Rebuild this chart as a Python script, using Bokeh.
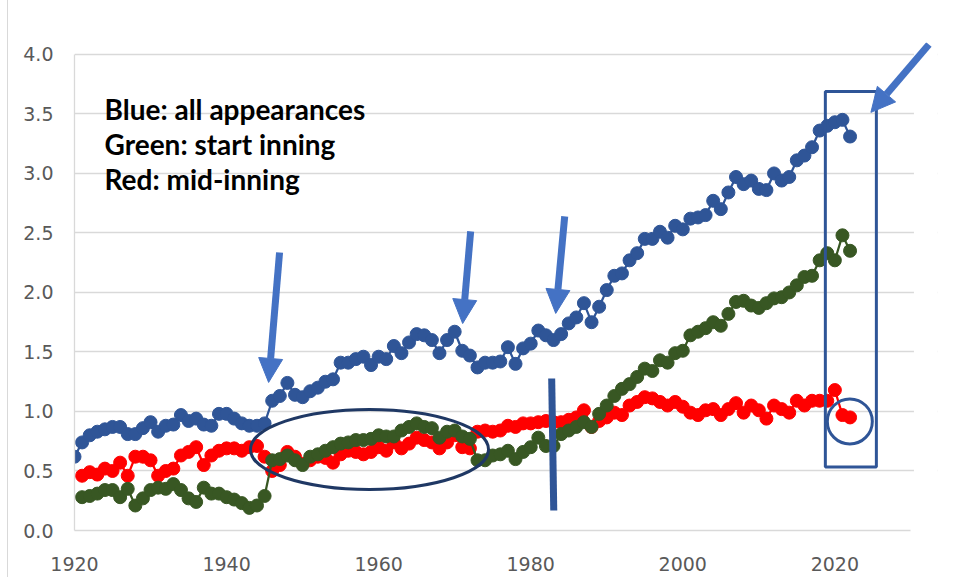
from bokeh.plotting import figure
from bokeh.models import (Arrow, NormalHead, Label, Range1d, SingleIntervalTicker,
                          NumeralTickFormatter, BoxAnnotation)
from bokeh.embed import file_html
from bokeh.resources import INLINE

# ---- data ----
years_blue = list(range(1920, 2023))
years_rg = list(range(1921, 2023))

blue_all = [
    0.62,
    0.74, 0.80, 0.83, 0.85, 0.87, 0.87, 0.81, 0.81, 0.86, 0.91,
    0.83, 0.88, 0.89, 0.97, 0.92, 0.94, 0.89, 0.88, 0.98, 0.98,
    0.94, 0.90, 0.88, 0.88, 0.90, 1.09, 1.13, 1.24, 1.14, 1.12,
    1.17, 1.20, 1.25, 1.27, 1.41, 1.41, 1.44, 1.46, 1.39, 1.46,
    1.44, 1.55, 1.49, 1.58, 1.65, 1.64, 1.60, 1.49, 1.60, 1.67,
    1.51, 1.47, 1.37, 1.41, 1.41, 1.42, 1.54, 1.40, 1.53, 1.57,
    1.68, 1.64, 1.60, 1.65, 1.74, 1.79, 1.91, 1.75, 1.88, 2.02,
    2.14, 2.16, 2.27, 2.33, 2.45, 2.45, 2.51, 2.46, 2.56, 2.53,
    2.62, 2.63, 2.65, 2.77, 2.70, 2.84, 2.97, 2.91, 2.94, 2.87,
    2.86, 3.00, 2.94, 2.97, 3.11, 3.15, 3.22, 3.36, 3.40, 3.43,
    3.45, 3.31,
]

green_start = [
    0.28, 0.29, 0.31, 0.34, 0.34, 0.28, 0.35, 0.21, 0.27, 0.34,
    0.36, 0.35, 0.39, 0.34, 0.27, 0.24, 0.36, 0.31, 0.31, 0.28,
    0.26, 0.23, 0.19, 0.21, 0.29, 0.59, 0.60, 0.63, 0.59, 0.55,
    0.62, 0.64, 0.67, 0.70, 0.73, 0.74, 0.76, 0.76, 0.77, 0.80,
    0.79, 0.79, 0.84, 0.87, 0.90, 0.87, 0.86, 0.78, 0.83, 0.84,
    0.79, 0.77, 0.59, 0.59, 0.63, 0.64, 0.67, 0.60, 0.66, 0.70,
    0.78, 0.71, 0.71, 0.81, 0.84, 0.87, 0.91, 0.87, 0.98, 1.05,
    1.13, 1.19, 1.23, 1.29, 1.36, 1.34, 1.43, 1.41, 1.49, 1.51,
    1.64, 1.67, 1.70, 1.75, 1.72, 1.82, 1.92, 1.93, 1.89, 1.87,
    1.91, 1.95, 1.96, 2.00, 2.06, 2.13, 2.14, 2.27, 2.33, 2.27,
    2.48, 2.35,
]

red_mid = [
    0.46, 0.49, 0.47, 0.52, 0.50, 0.57, 0.46, 0.62, 0.62, 0.59,
    0.46, 0.50, 0.52, 0.63, 0.66, 0.70, 0.55, 0.63, 0.67, 0.69,
    0.69, 0.67, 0.70, 0.71, 0.62, 0.50, 0.55, 0.66, 0.62, 0.56,
    0.59, 0.62, 0.61, 0.57, 0.64, 0.67, 0.66, 0.64, 0.66, 0.70,
    0.67, 0.74, 0.69, 0.73, 0.78, 0.76, 0.74, 0.69, 0.74, 0.80,
    0.70, 0.69, 0.83, 0.84, 0.83, 0.84, 0.88, 0.87, 0.90, 0.90,
    0.91, 0.92, 0.91, 0.91, 0.93, 0.95, 1.01, 0.87, 0.92, 0.95,
    0.99, 0.97, 1.05, 1.08, 1.12, 1.11, 1.08, 1.05, 1.08, 1.04,
    0.99, 0.97, 1.01, 1.02, 0.97, 1.02, 1.07, 0.99, 1.05, 1.01,
    0.94, 1.05, 1.02, 0.99, 1.09, 1.05, 1.09, 1.09, 1.09, 1.18,
    0.97, 0.95,
]

legend_lines = ["Blue:  all appearances", "Green: start inning", "Red: mid-inning"]

BLUE = "#2F5597"
GREEN = "#385723"
RED = "#FF0000"
ARROW = "#4472C4"
NAVY = "#1F3864"
GRID = "#D9D9D9"

p = figure(frame_width=863, frame_height=488, output_backend="svg", toolbar_location=None,
           x_range=Range1d(1920, 2033.5), y_range=Range1d(0, 4.1),
           min_border_left=74, min_border_right=19, min_border_top=42, min_border_bottom=47)
p.outline_line_color = None
p.background_fill_color = "white"
p.border_fill_color = None
p.styles = {"background": "linear-gradient(to right, #ffffff 0px, #ffffff 7px, "
                          "#D9D9D9 7px, #D9D9D9 8px, #ffffff 8px, #ffffff 100%)"}

p.xgrid.grid_line_color = None
p.ygrid.grid_line_color = GRID
p.ygrid.grid_line_width = 1.3

p.xaxis.ticker = SingleIntervalTicker(interval=20)
p.yaxis.ticker = SingleIntervalTicker(interval=0.5)
p.yaxis.formatter = NumeralTickFormatter(format="0.0")
p.xaxis.bounds = (1920, 2030)
p.yaxis.bounds = (0, 4)
for ax in (p.xaxis[0], p.yaxis[0]):
    ax.axis_line_color = GRID
    ax.axis_line_width = 1.3
    ax.major_tick_line_color = None
    ax.minor_tick_line_color = None
    ax.major_label_text_font = "DejaVu Sans"
    ax.major_label_text_font_size = "19px"
    ax.major_label_text_color = "#595959"
p.xaxis.major_label_standoff = 20
p.yaxis.major_label_standoff = 15

# series: red, green, blue
for xs, ys, c in ((years_rg, red_mid, RED), (years_rg, green_start, GREEN), (years_blue, blue_all, BLUE)):
    p.line(xs, ys, line_color=c, line_width=2.25)
    p.scatter(xs, ys, size=13, marker="circle", fill_color=c, line_color=c)

# hide grid beyond the 2030 axis end
p.add_layout(BoxAnnotation(left=2030.4, fill_color="white", fill_alpha=1, line_color=None))

# annotations
p.ellipse(x=[1958.8], y=[0.681], width=31.3, height=0.672,
          fill_color=None, line_color=NAVY, line_width=3)
p.segment(x0=[1982.76], y0=[1.277], x1=[1983.03], y1=[0.168],
          line_color=BLUE, line_width=7)
p.quad(left=[2018.75], right=[2025.46], top=[3.689], bottom=[0.534],
       fill_color=None, line_color=BLUE, line_width=3)
p.scatter(x=[2021.97], y=[0.916], size=45, marker="circle",
          fill_color=None, line_color=BLUE, line_width=3)

arrows = [
    (1946.97, 2.336, 1945.53, 1.244),
    (1972.10, 2.513, 1971.05, 1.739),
    (1984.47, 2.639, 1983.29, 1.824),
    (2032.37, 4.084, 2024.74, 3.513),
]
for xs0, ys0, xe, ye in arrows:
    p.add_layout(Arrow(end=NormalHead(size=24, fill_color=ARROW, line_color=ARROW),
                       x_start=xs0, y_start=ys0, x_end=xe, y_end=ye,
                       line_color=ARROW, line_width=7))

for i, t in enumerate(legend_lines):
    p.add_layout(Label(x=1923.95, y=3.545 - i * 0.298, text=t,
                       text_font="Lato", text_font_style="bold",
                       text_font_size="28px", text_color="black",
                       text_baseline="alphabetic"))

open("out.html", "w").write(file_html(p, INLINE))
